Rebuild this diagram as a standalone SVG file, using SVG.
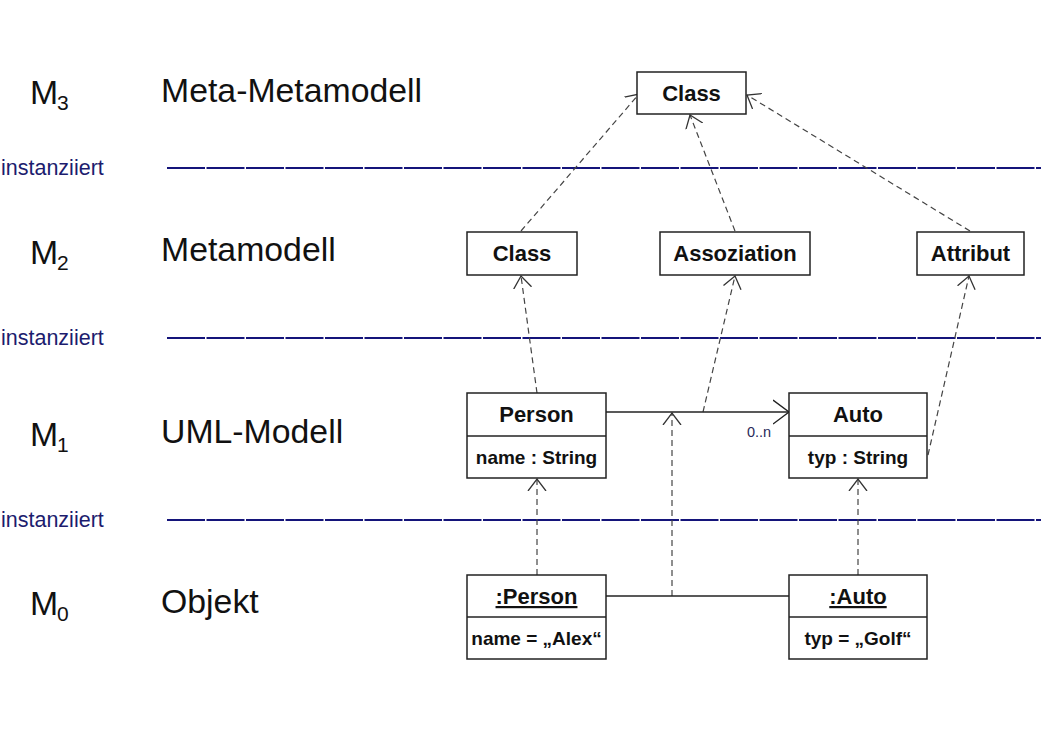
<svg xmlns="http://www.w3.org/2000/svg" width="1041" height="747" viewBox="0 0 1041 747">
<defs>
<style>
.lvl{font-family:"Liberation Sans",Arial,sans-serif;font-size:33.8px;fill:#111}
.sub{font-family:"Liberation Sans",Arial,sans-serif;font-size:21px;fill:#111}
.inst{font-family:"Liberation Sans",Arial,sans-serif;font-size:21.5px;fill:#1c1c6e}
.sep{stroke:#14147a;stroke-width:1.8;stroke-dasharray:38 1.5;fill:none}
.box{fill:#fff;stroke:#222;stroke-width:1.5}
.title{font-family:"Liberation Sans",Arial,sans-serif;font-size:22px;font-weight:bold;fill:#111;text-anchor:middle}
.attr{font-family:"Liberation Sans",Arial,sans-serif;font-size:19px;font-weight:bold;fill:#111;text-anchor:middle}
.dep{stroke:#444;stroke-width:1.2;stroke-dasharray:6 4;fill:none;marker-end:url(#open)}
.solid{stroke:#222;stroke-width:1.5;fill:none}
.mult{font-family:"Liberation Sans",Arial,sans-serif;font-size:14.5px;fill:#2a2a5a}
</style>
<marker id="open" markerUnits="userSpaceOnUse" markerWidth="14" markerHeight="22" refX="12" refY="10" orient="auto">
<path d="M0,1 L12,10 L0,19" fill="none" stroke="#333" stroke-width="1.3" stroke-dasharray="none"/>
</marker>
<marker id="open2" markerUnits="userSpaceOnUse" markerWidth="18" markerHeight="28" refX="16" refY="13" orient="auto">
<path d="M0,1 L16,13 L0,25" fill="none" stroke="#222" stroke-width="1.4"/>
</marker>
</defs>
<rect width="1041" height="747" fill="#fff"/>

<g id="levels">
<text class="lvl" x="30" y="104">M</text><text class="sub" x="57" y="110">3</text>
<text class="lvl" x="161" y="102">Meta-Metamodell</text>
<text class="lvl" x="30" y="264">M</text><text class="sub" x="57" y="270">2</text>
<text class="lvl" x="161" y="261">Metamodell</text>
<text class="lvl" x="30" y="446">M</text><text class="sub" x="57" y="452">1</text>
<text class="lvl" x="161" y="443">UML-Modell</text>
<text class="lvl" x="30" y="615">M</text><text class="sub" x="57" y="621">0</text>
<text class="lvl" x="161" y="613">Objekt</text>
</g>

<g id="separators">
<text class="inst" x="1" y="175">instanziiert</text>
<line class="sep" x1="167" y1="168" x2="1041" y2="168"/>
<text class="inst" x="1" y="345">instanziiert</text>
<line class="sep" x1="167" y1="338" x2="1041" y2="338"/>
<text class="inst" x="1" y="527">instanziiert</text>
<line class="sep" x1="167" y1="520" x2="1041" y2="520"/>
</g>

<g id="connectors">
<line class="dep" x1="521" y1="231" x2="639" y2="94"/>
<line class="dep" x1="735" y1="231" x2="690" y2="115"/>
<line class="dep" x1="970" y1="231" x2="747" y2="95"/>
<line class="dep" x1="537" y1="393" x2="521" y2="276"/>
<line class="dep" x1="703" y1="412" x2="735" y2="276"/>
<line class="dep" x1="928" y1="455" x2="969" y2="276"/>
<line class="dep" x1="537" y1="575" x2="537" y2="479"/>
<line class="dep" x1="858" y1="575" x2="858" y2="479"/>
<line class="dep" x1="672" y1="596" x2="672" y2="413"/>
<line class="solid" x1="606" y1="412" x2="789" y2="412" marker-end="url(#open2)"/>
<text class="mult" x="747" y="437">0..n</text>
<line class="solid" x1="606" y1="596" x2="789" y2="596"/>
</g>

<g id="m3-class">
<rect class="box" x="637" y="72" width="109" height="42"/>
<text class="title" x="691.5" y="101">Class</text>
</g>
<g id="m2-class">
<rect class="box" x="467" y="232" width="110" height="43"/>
<text class="title" x="522" y="261">Class</text>
</g>
<g id="m2-assoziation">
<rect class="box" x="660" y="232" width="150" height="43"/>
<text class="title" x="735" y="261">Assoziation</text>
</g>
<g id="m2-attribut">
<rect class="box" x="917" y="232" width="107" height="43"/>
<text class="title" x="970.5" y="261">Attribut</text>
</g>
<g id="m1-person">
<rect class="box" x="467" y="393" width="139" height="85"/>
<line class="solid" x1="467" y1="436" x2="606" y2="436"/>
<text class="title" x="536.5" y="422">Person</text>
<text class="attr" x="536.5" y="464">name : String</text>
</g>
<g id="m1-auto">
<rect class="box" x="789" y="393" width="138" height="85"/>
<line class="solid" x1="789" y1="436" x2="927" y2="436"/>
<text class="title" x="858" y="422">Auto</text>
<text class="attr" x="858" y="464">typ : String</text>
</g>
<g id="m0-person">
<rect class="box" x="467" y="575" width="139" height="84"/>
<line class="solid" x1="467" y1="617" x2="606" y2="617"/>
<text class="title" x="536.5" y="604" text-decoration="underline">:Person</text>
<text class="attr" x="536.5" y="645">name = „Alex“</text>
</g>
<g id="m0-auto">
<rect class="box" x="789" y="575" width="138" height="84"/>
<line class="solid" x1="789" y1="617" x2="927" y2="617"/>
<text class="title" x="858" y="604" text-decoration="underline">:Auto</text>
<text class="attr" x="858" y="645">typ = „Golf“</text>
</g>
</svg>
